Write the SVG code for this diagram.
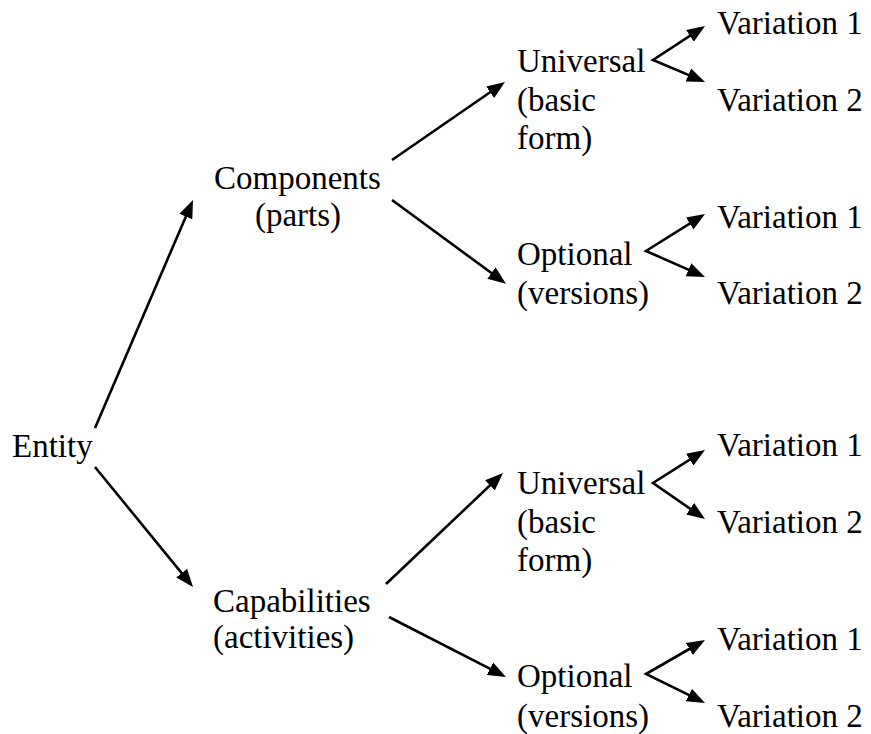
<svg xmlns="http://www.w3.org/2000/svg" width="871" height="734" viewBox="0 0 871 734">
<style>
.c{fill:none;stroke:#000;stroke-width:2.6;stroke-linejoin:miter;stroke-miterlimit:10}
</style>
<defs>
<marker id="ah" markerUnits="userSpaceOnUse" markerWidth="20" markerHeight="16" viewBox="0 0 20 16" refX="14" refY="8" orient="auto-start-reverse">
<path d="M0,1 L18,8 L0,15 Z" fill="#000"/>
</marker>
</defs>
<rect width="871" height="734" fill="#fff"/>
<g id="connectors">
<line class="c" x1="95" y1="428" x2="191.4" y2="203.7" marker-end="url(#ah)"/>
<line class="c" x1="95" y1="467" x2="190.5" y2="583.9" marker-end="url(#ah)"/>
<line class="c" x1="392" y1="160" x2="501.7" y2="84.3" marker-end="url(#ah)"/>
<line class="c" x1="392" y1="200" x2="502.7" y2="281.3" marker-end="url(#ah)"/>
<line class="c" x1="386" y1="584" x2="500.1" y2="475.8" marker-end="url(#ah)"/>
<line class="c" x1="389" y1="617" x2="502.4" y2="675.2" marker-end="url(#ah)"/>
<polyline class="c" points="701.7,28.2 653,60 701.3,80.4" marker-start="url(#ah)" marker-end="url(#ah)"/>
<polyline class="c" points="701.6,216.1 646,251 701.3,275.4" marker-start="url(#ah)" marker-end="url(#ah)"/>
<polyline class="c" points="701.6,452.1 653,483 701.7,516.7" marker-start="url(#ah)" marker-end="url(#ah)"/>
<polyline class="c" points="701.5,642 646,674 701.4,701.2" marker-start="url(#ah)" marker-end="url(#ah)"/>
</g>
<g font-family="Liberation Serif, Times New Roman, DejaVu Serif, serif" font-size="33" fill="#000">
<g id="entity"><text x="12" y="457">Entity</text></g>
<g id="components"><text x="214" y="189">Components</text><text x="298" y="226" text-anchor="middle">(parts)</text></g>
<g id="capabilities"><text x="213" y="612">Capabilities</text><text x="213" y="648">(activities)</text></g>
<g id="universal1"><text x="517" y="72">Universal</text><text x="517" y="111">(basic</text><text x="517" y="149">form)</text></g>
<g id="optional1"><text x="517" y="265">Optional</text><text x="517" y="304">(versions)</text></g>
<g id="universal2"><text x="517" y="494">Universal</text><text x="517" y="533">(basic</text><text x="517" y="571">form)</text></g>
<g id="optional2"><text x="517" y="687">Optional</text><text x="517" y="727">(versions)</text></g>
<g id="var1a"><text x="717" y="34">Variation 1</text></g>
<g id="var1b"><text x="717" y="111">Variation 2</text></g>
<g id="var2a"><text x="717" y="228">Variation 1</text></g>
<g id="var2b"><text x="717" y="304">Variation 2</text></g>
<g id="var3a"><text x="717" y="456">Variation 1</text></g>
<g id="var3b"><text x="717" y="533">Variation 2</text></g>
<g id="var4a"><text x="717" y="650">Variation 1</text></g>
<g id="var4b"><text x="717" y="727">Variation 2</text></g>
</g>
</svg>
